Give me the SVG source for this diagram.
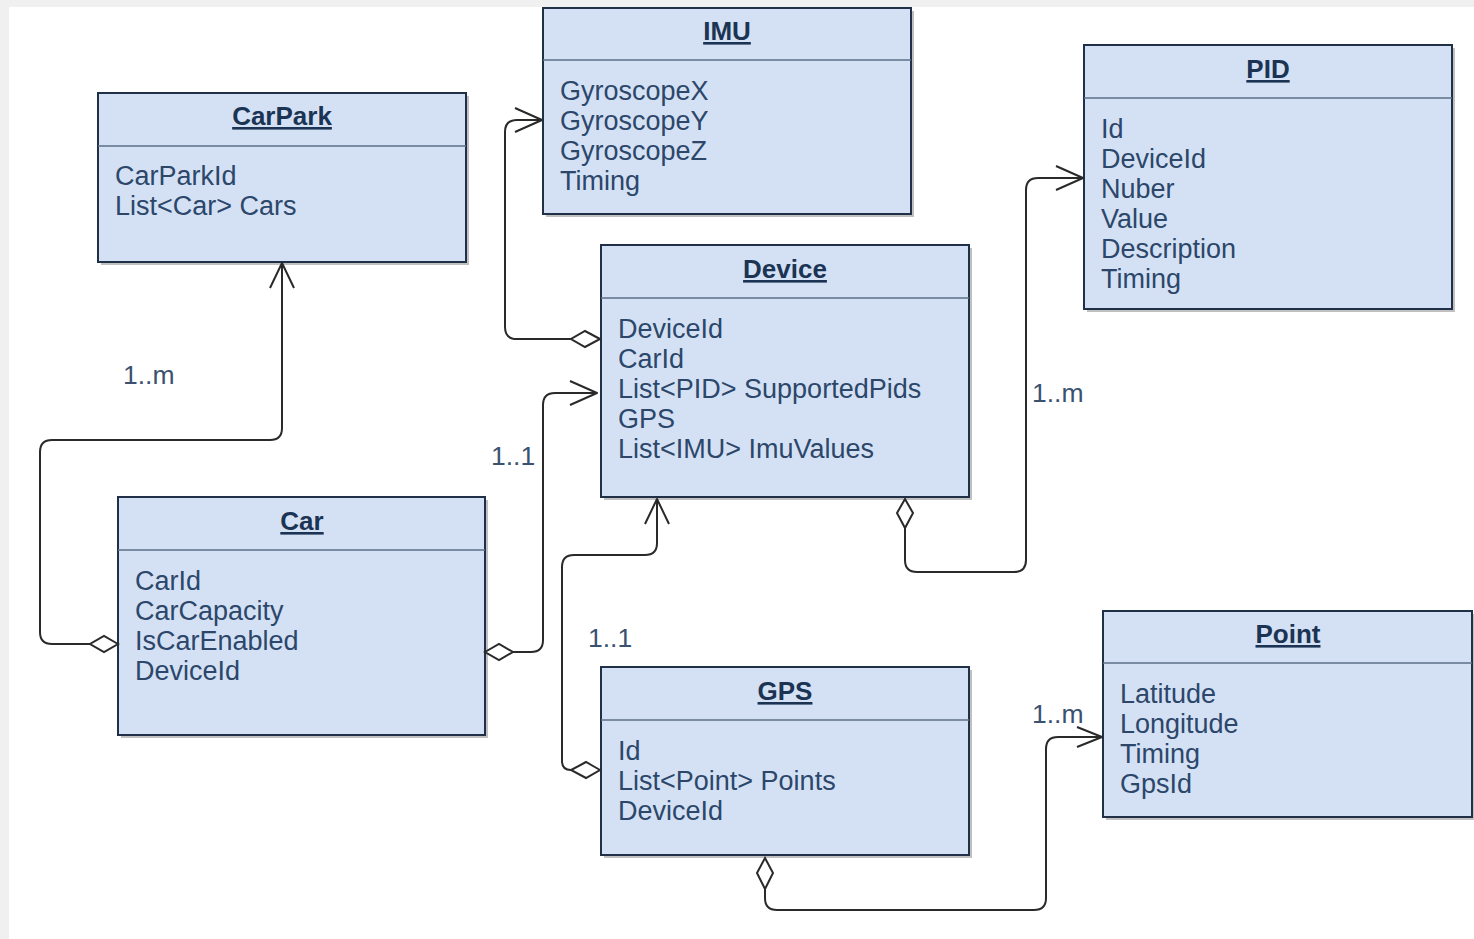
<svg xmlns="http://www.w3.org/2000/svg" width="1474" height="939" viewBox="0 0 1474 939">
  <style>
    .shadow { fill: #8c8c8c; opacity: 0.55; }
    .box { fill: #d4e1f5; stroke: #1f3048; stroke-width: 2; }
    .sep { stroke: #5d6f86; stroke-width: 1.5; }
    .title { font-family: "Liberation Sans", Arial, sans-serif; font-size: 26px; font-weight: bold; fill: #1b3454; text-anchor: middle; text-decoration: underline; }
    .attr { font-family: "Liberation Sans", Arial, sans-serif; font-size: 27px; fill: #2c476a; }
    .lbl { font-family: "Liberation Sans", Arial, sans-serif; font-size: 26.5px; fill: #3a5270; }
    .conn { fill: none; stroke: #2a2a2a; stroke-width: 2; stroke-linejoin: round; }
    .dia { fill: #ffffff; stroke: #2a2a2a; stroke-width: 2; }
  </style>

  <!-- page background -->
  <rect x="0" y="0" width="1474" height="939" fill="#f0f0f0"/>
  <rect x="9" y="7" width="1465" height="932" fill="#ffffff"/>

  <!-- CarPark -->
  <g id="carpark">
    <rect class="shadow" x="101" y="96" width="368" height="169"/>
    <rect class="box" x="98" y="93" width="368" height="169"/>
    <line class="sep" x1="98" y1="146" x2="466" y2="146"/>
    <text class="title" x="282" y="125">CarPark</text>
    <text class="attr" x="115" y="185">CarParkId</text>
    <text class="attr" x="115" y="215">List&lt;Car&gt; Cars</text>
  </g>

  <!-- IMU -->
  <g id="imu">
    <rect class="shadow" x="546" y="11" width="368" height="206"/>
    <rect class="box" x="543" y="8" width="368" height="206"/>
    <line class="sep" x1="543" y1="60" x2="911" y2="60"/>
    <text class="title" x="727" y="40">IMU</text>
    <text class="attr" x="560" y="100">GyroscopeX</text>
    <text class="attr" x="560" y="130">GyroscopeY</text>
    <text class="attr" x="560" y="160">GyroscopeZ</text>
    <text class="attr" x="560" y="190">Timing</text>
  </g>

  <!-- PID -->
  <g id="pid">
    <rect class="shadow" x="1087" y="48" width="368" height="264"/>
    <rect class="box" x="1084" y="45" width="368" height="264"/>
    <line class="sep" x1="1084" y1="98" x2="1452" y2="98"/>
    <text class="title" x="1268" y="78">PID</text>
    <text class="attr" x="1101" y="138">Id</text>
    <text class="attr" x="1101" y="168">DeviceId</text>
    <text class="attr" x="1101" y="198">Nuber</text>
    <text class="attr" x="1101" y="228">Value</text>
    <text class="attr" x="1101" y="258">Description</text>
    <text class="attr" x="1101" y="288">Timing</text>
  </g>

  <!-- Device -->
  <g id="device">
    <rect class="shadow" x="604" y="248" width="368" height="252"/>
    <rect class="box" x="601" y="245" width="368" height="252"/>
    <line class="sep" x1="601" y1="298" x2="969" y2="298"/>
    <text class="title" x="785" y="278">Device</text>
    <text class="attr" x="618" y="338">DeviceId</text>
    <text class="attr" x="618" y="368">CarId</text>
    <text class="attr" x="618" y="398">List&lt;PID&gt; SupportedPids</text>
    <text class="attr" x="618" y="428">GPS</text>
    <text class="attr" x="618" y="458">List&lt;IMU&gt; ImuValues</text>
  </g>

  <!-- Car -->
  <g id="car">
    <rect class="shadow" x="121" y="500" width="367" height="238"/>
    <rect class="box" x="118" y="497" width="367" height="238"/>
    <line class="sep" x1="118" y1="550" x2="485" y2="550"/>
    <text class="title" x="302" y="530">Car</text>
    <text class="attr" x="135" y="590">CarId</text>
    <text class="attr" x="135" y="620">CarCapacity</text>
    <text class="attr" x="135" y="650">IsCarEnabled</text>
    <text class="attr" x="135" y="680">DeviceId</text>
  </g>

  <!-- GPS -->
  <g id="gps">
    <rect class="shadow" x="604" y="670" width="368" height="188"/>
    <rect class="box" x="601" y="667" width="368" height="188"/>
    <line class="sep" x1="601" y1="720" x2="969" y2="720"/>
    <text class="title" x="785" y="700">GPS</text>
    <text class="attr" x="618" y="760">Id</text>
    <text class="attr" x="618" y="790">List&lt;Point&gt; Points</text>
    <text class="attr" x="618" y="820">DeviceId</text>
  </g>

  <!-- Point -->
  <g id="point">
    <rect class="shadow" x="1106" y="614" width="369" height="206"/>
    <rect class="box" x="1103" y="611" width="369" height="206"/>
    <line class="sep" x1="1103" y1="663" x2="1472" y2="663"/>
    <text class="title" x="1288" y="643">Point</text>
    <text class="attr" x="1120" y="703">Latitude</text>
    <text class="attr" x="1120" y="733">Longitude</text>
    <text class="attr" x="1120" y="763">Timing</text>
    <text class="attr" x="1120" y="793">GpsId</text>
  </g>

  <!-- associations: diamond = aggregate end, open arrow = target end -->
  <g id="connectors">
    <!-- Car -> CarPark -->
    <path class="conn" d="M 90 644 L 52 644 Q 40 644 40 632 L 40 452 Q 40 440 52 440 L 270 440 Q 282 440 282 428 L 282 263"/>
    <path class="conn" d="M 270 288 L 282 263 L 294 288"/>
    <path class="dia" d="M 118 644 L 104 636 L 90 644 L 104 652 Z"/>

    <!-- Car -> Device -->
    <path class="conn" d="M 513 652 L 531 652 Q 543 652 543 640 L 543 405 Q 543 393 555 393 L 597 393"/>
    <path class="conn" d="M 570 381 L 597 393 L 570 405"/>
    <path class="dia" d="M 485 652 L 499 644 L 513 652 L 499 660 Z"/>

    <!-- Device -> IMU -->
    <path class="conn" d="M 571 339 L 517 339 Q 505 339 505 327 L 505 132 Q 505 120 517 120 L 542 120"/>
    <path class="conn" d="M 515 108 L 542 120 L 515 132"/>
    <path class="dia" d="M 600 339 L 585 331 L 571 339 L 585 347 Z"/>

    <!-- Device -> PID -->
    <path class="conn" d="M 905 528 L 905 560 Q 905 572 917 572 L 1014 572 Q 1026 572 1026 560 L 1026 190 Q 1026 178 1038 178 L 1083 178"/>
    <path class="conn" d="M 1056 166 L 1083 178 L 1056 190"/>
    <path class="dia" d="M 905 499 L 913 513 L 905 528 L 897 513 Z"/>

    <!-- GPS -> Device -->
    <path class="conn" d="M 571 770 Q 562 770 562 761 L 562 567 Q 562 555 574 555 L 645 555 Q 657 555 657 543 L 657 499"/>
    <path class="conn" d="M 645 524 L 657 499 L 669 524"/>
    <path class="dia" d="M 600 770 L 586 762 L 571 770 L 586 778 Z"/>

    <!-- GPS -> Point -->
    <path class="conn" d="M 765 889 L 765 898 Q 765 910 777 910 L 1034 910 Q 1046 910 1046 898 L 1046 749 Q 1046 737 1058 737 L 1102 737"/>
    <path class="conn" d="M 1077 727 L 1102 737 L 1077 747"/>
    <path class="dia" d="M 765 858 L 773 873 L 765 889 L 757 873 Z"/>

    <!-- multiplicities -->
    <text class="lbl" x="123" y="384">1..m</text>
    <text class="lbl" x="491" y="465">1..1</text>
    <text class="lbl" x="1032" y="402">1..m</text>
    <text class="lbl" x="588" y="647">1..1</text>
    <text class="lbl" x="1032" y="723">1..m</text>
  </g>
</svg>
